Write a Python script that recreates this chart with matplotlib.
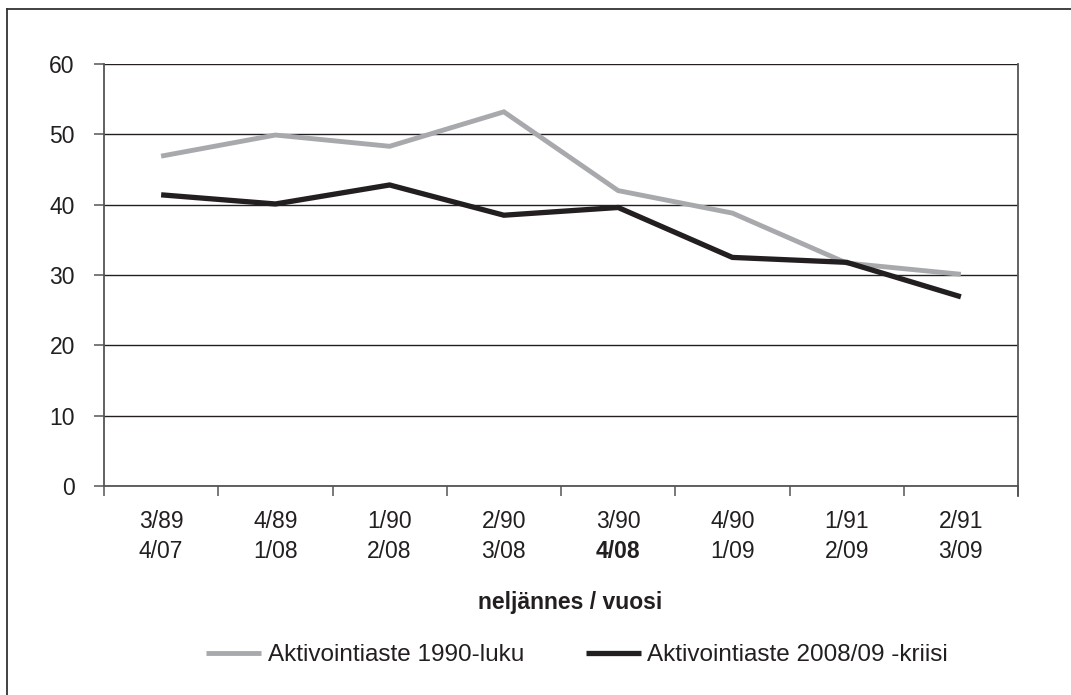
import matplotlib
matplotlib.use("Agg")
import matplotlib.pyplot as plt
from matplotlib.lines import Line2D

plt.rcParams['font.family'] = ['Liberation Sans', 'DejaVu Sans']

# quarter / year labels (top line = 1990s, bottom line = 2008/09)
top_labels = ['3/89', '4/89', '1/90', '2/90', '3/90', '4/90', '1/91', '2/91']
bottom_labels = ['4/07', '1/08', '2/08', '3/08', '4/08', '1/09', '2/09', '3/09']
bold_label = '4/08'

aste_1990 = [46.9, 49.9, 48.3, 53.2, 42.0, 38.8, 31.7, 30.1]
aste_2008 = [41.4, 40.1, 42.8, 38.5, 39.6, 32.5, 31.8, 26.9]

series_names = ['Aktivointiaste 1990-luku', 'Aktivointiaste 2008/09 -kriisi']
x_title = 'neljännes / vuosi'
y_ticks = [0, 10, 20, 30, 40, 50, 60]

fs = 16.5
dark = '#231f20'
spine_c = '#555555'

fig = plt.figure(figsize=(10.71, 6.95), dpi=100)
ax = fig.add_axes([104 / 1071, 1 - 486 / 695, (1018 - 104) / 1071, (486 - 64) / 695])

x = list(range(len(top_labels)))
ax.plot(x, aste_1990, color='#a7a9ac', lw=3.5, solid_capstyle='butt',
        solid_joinstyle='miter', label=series_names[0], zorder=3)
ax.plot(x, aste_2008, color=dark, lw=3.8, solid_capstyle='butt',
        solid_joinstyle='miter', label=series_names[1], zorder=4)

ax.set_xlim(-0.5, len(top_labels) - 0.5)
ax.set_ylim(0, 60)
ax.set_yticks(y_ticks)
ax.set_yticklabels([str(v) for v in y_ticks], fontsize=fs, color=dark)
ax.set_xticks([i - 0.5 for i in range(len(top_labels) + 1)])
ax.set_xticklabels([])
ax.tick_params(axis='y', direction='out', length=7.5, width=1.1, color=spine_c, pad=13.5)
ax.tick_params(axis='x', direction='out', length=7, width=1.1, color=spine_c)

ax.yaxis.grid(True, color=dark, lw=1.0)
ax.set_axisbelow(True)
for s in ['left', 'bottom', 'right']:
    ax.spines[s].set_color(spine_c)
    ax.spines[s].set_linewidth(1.3)
ax.spines['top'].set_visible(False)

# right spine continues down like a tick
ax.plot([1, 1], [0, -0.024], transform=ax.transAxes, color=spine_c, lw=1.3, clip_on=False)

for i, (t, b) in enumerate(zip(top_labels, bottom_labels)):
    ax.annotate(t, xy=(i, 0), xycoords=('data', 'axes fraction'), xytext=(0, -25.5),
                textcoords='offset points', ha='center', va='center', fontsize=fs, color=dark)
    ax.annotate(b, xy=(i, 0), xycoords=('data', 'axes fraction'), xytext=(0, -47.5),
                textcoords='offset points', ha='center', va='center', fontsize=fs, color=dark,
                fontweight='bold' if b == bold_label else 'normal')

fig.text(570 / 1071, 1 - 603 / 695, x_title, ha='center', va='center',
         fontsize=fs, fontweight='bold', color=dark)

fig.legend(loc='center', bbox_to_anchor=(577 / 1071, 1 - 655 / 695), ncol=2, frameon=False,
           fontsize=17.5, handlelength=2.26, handletextpad=0.28, columnspacing=2.55,
           labelcolor=dark)

# outer frame (top and left edges visible)
fig.add_artist(Line2D([7 / 1071, 7 / 1071], [0, 1 - 9 / 695], transform=fig.transFigure,
                      color='#333333', lw=1.3))
fig.add_artist(Line2D([7 / 1071, 1], [1 - 9 / 695, 1 - 9 / 695], transform=fig.transFigure,
                      color='#333333', lw=1.3))

fig.savefig('out.png', dpi=100)
